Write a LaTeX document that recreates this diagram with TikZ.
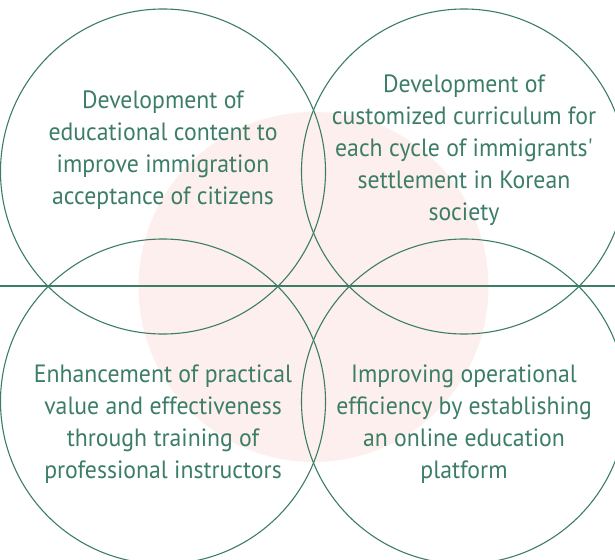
\documentclass[tikz,border=0pt]{standalone}
\usepackage{fontspec}
\setmainfont[FakeStretch=0.95,Ligatures=TeXOff]{PT Sans}
\definecolor{teal}{HTML}{3C7D68}
\definecolor{blush}{HTML}{FCEFED}
\begin{document}
\begin{tikzpicture}[x=1pt,y=-1pt,
  ring/.style={draw=teal,line width=1.1pt,circle,minimum size=325pt,inner sep=0pt},
  label/.style={text=teal,align=center,font=\fontsize{25}{32}\selectfont,inner sep=0pt}]
\useasboundingbox (0,0) rectangle (615,559);
\fill[blush] (313.5,287) circle (175);
\node[ring] (tl) at (163,171.5) {};
\node[ring] (tr) at (464,171.5) {};
\node[ring] (bl) at (163,401.5) {};
\node[ring] (br) at (464,401.5) {};
\coordinate (la) at (0,286);
\coordinate (lb) at (615,286);
\draw[teal,line width=1.1pt] (la) -- (lb);
\node[label] (ttl) at (163,150) {Development of\\educational content to\\improve immigration\\acceptance of citizens};
\node[label] (ttr) at (464,150.5) {Development of\\customized curriculum for\\each cycle of immigrants'\\settlement in Korean\\society};
\node[label] (tbl) at (163,424) {Enhancement of practical\\value and effectiveness\\through training of\\professional instructors};
\node[label] (tbr) at (464,424) {Improving operational\\efficiency by establishing\\an online education\\platform};
\end{tikzpicture}
\end{document}
